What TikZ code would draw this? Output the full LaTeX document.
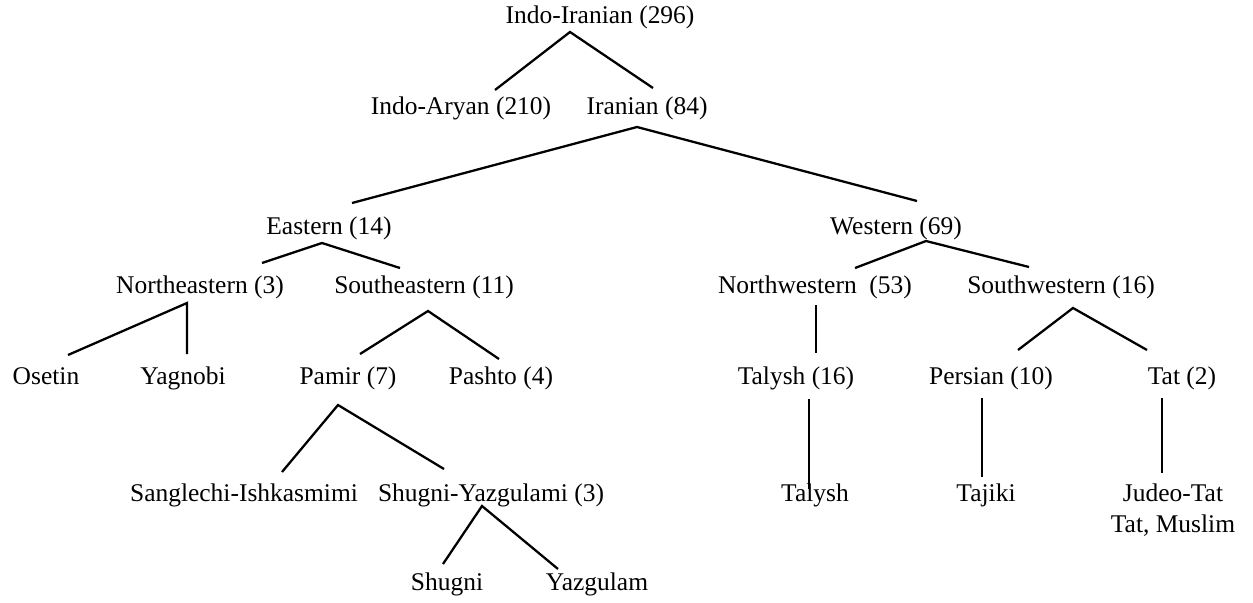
\documentclass[tikz,border=0pt]{standalone}
\usepackage{fontspec}
\setmainfont{Liberation Serif}

\begin{document}
\begin{tikzpicture}[x=0.02cm, y=-0.02cm, font=\fontsize{14.5}{17.6}\selectfont,
		lang/.style={anchor=base, inner sep=0pt},
		branch/.style={line width=1.3pt}]
			\useasboundingbox (0,0) rectangle (1253,602);

			\node[lang] (indoiranian) at (600,23) {Indo-Iranian (296)};
			\node[lang] (indoaryan) at (461,114) {Indo-Aryan (210)};
			\node[lang] (iranian) at (647,114) {Iranian (84)};
			\node[lang] (eastern) at (329,234) {Eastern (14)};
			\node[lang] (western) at (896,234) {Western (69)};
			\node[lang] (northeastern) at (200,293) {Northeastern (3)};
			\node[lang] (southeastern) at (424,293) {Southeastern (11)};
			\node[lang] (northwestern) at (815,293) {Northwestern\ \ (53)};
			\node[lang] (southwestern) at (1061,293) {Southwestern (16)};
			\node[lang] (osetin) at (46,384) {Osetin};
			\node[lang] (yagnobi) at (183,384) {Yagnobi};
			\node[lang] (pamir) at (348,384) {Pamir (7)};
			\node[lang] (pashto) at (501,384) {Pashto (4)};
			\node[lang] (talyshgroup) at (796,384) {Talysh (16)};
			\node[lang] (persian) at (991,384) {Persian (10)};
			\node[lang] (tat) at (1182,384) {Tat (2)};
			\node[lang] (sanglechi) at (244,501) {Sanglechi-Ishkasmimi};
			\node[lang] (shugniyazgulami) at (491,501) {Shugni-Yazgulami (3)};
			\node[lang] (talysh) at (815,501) {Talysh};
			\node[lang] (tajiki) at (986,501) {Tajiki};
			\node[lang, align=center] (judeotat) at (1173,532) {Judeo-Tat\\Tat, Muslim};
			\node[lang] (shugni) at (447,590) {Shugni};
			\node[lang] (yazgulam) at (597,590) {Yazgulam};

			\coordinate (indoiranianfork) at ([shift={(-30,9)}]indoiranian.base);
			\coordinate (iranianfork) at ([shift={(-10,13)}]iranian.base);
			\coordinate (easternfork) at ([shift={(-7,9)}]eastern.base);
			\coordinate (westernfork) at ([shift={(30,7)}]western.base);
			\coordinate (northeasternfork) at ([shift={(-13,10)}]northeastern.base);
			\coordinate (southeasternfork) at ([shift={(4,18)}]southeastern.base);
			\coordinate (southwesternfork) at ([shift={(12,15)}]southwestern.base);
			\coordinate (pamirfork) at ([shift={(-10,21)}]pamir.base);
			\coordinate (shugniyazgulamifork) at ([shift={(-9,5)}]shugniyazgulami.base);

			\draw [branch] ([shift={(34,-24)}]indoaryan.base) to (indoiranianfork) to ([shift={(6,-26)}]iranian.base);
			\draw [branch] ([shift={(23,-31)}]eastern.base) to (iranianfork) to ([shift={(21,-33)}]western.base);
			\draw [branch] ([shift={(62,-30)}]northeastern.base) to (easternfork) to ([shift={(-24,-25)}]southeastern.base);
			\draw [branch] ([shift={(40,-25)}]northwestern.base) to (westernfork) to ([shift={(-32,-26)}]southwestern.base);
			\draw [branch] ([shift={(22,-29)}]osetin.base) to (northeasternfork) to ([shift={(4,-30)}]yagnobi.base);
			\draw [branch] ([shift={(12,-30)}]pamir.base) to (southeasternfork) to ([shift={(-2,-25)}]pashto.base);
			\draw [branch] ([shift={(27,-34)}]persian.base) to (southwesternfork) to ([shift={(-35,-34)}]tat.base);
			\draw [branch] ([shift={(38,-29)}]sanglechi.base) to (pamirfork) to ([shift={(-47,-32)}]shugniyazgulami.base);
			\draw [branch] ([shift={(-4,-26)}]shugni.base) to (shugniyazgulamifork) to ([shift={(-39,-21)}]yazgulam.base);

			\draw [branch] ([shift={(1,12)}]northwestern.base) to ([shift={(20,-31)}]talyshgroup.base);
			\draw [branch] ([shift={(13,15)}]talyshgroup.base) to ([shift={(-6,-12)}]talysh.base);
			\draw [branch] ([shift={(-9,14)}]persian.base) to ([shift={(-4,-24)}]tajiki.base);
			\draw [branch] ([shift={(-20,14)}]tat.base) to ([shift={(-11,-59)}]judeotat.base);
	\end{tikzpicture}
\end{document}
